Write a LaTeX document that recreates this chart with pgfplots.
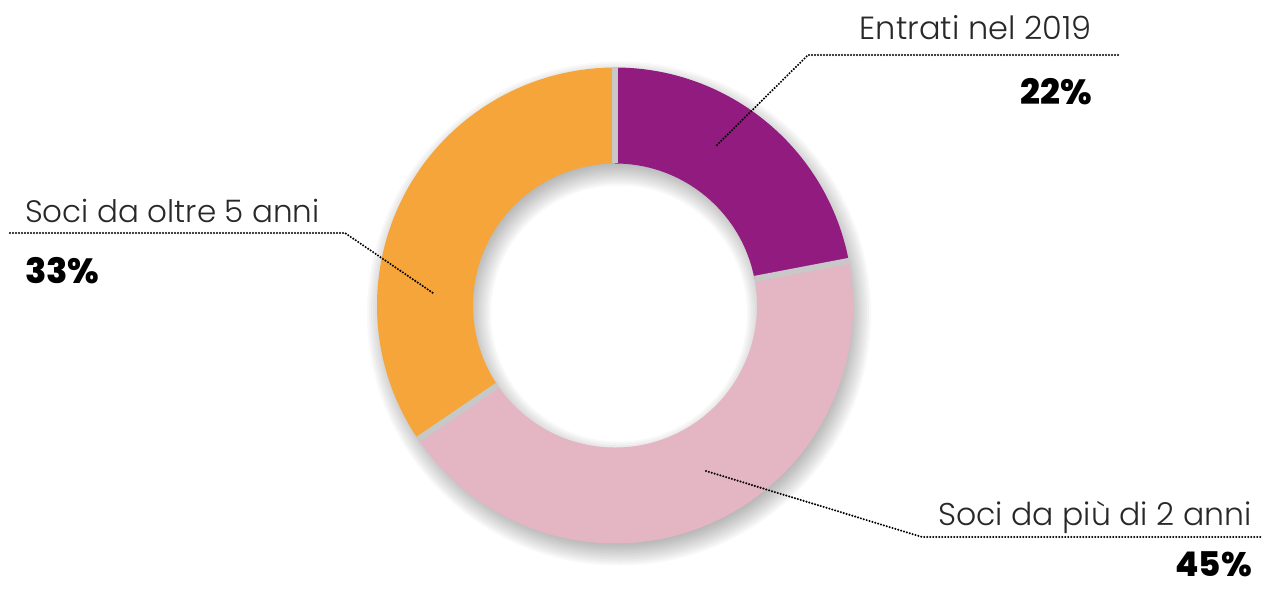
\documentclass[border=0pt]{standalone}
\usepackage{fontspec}
\usepackage{pgfplots}
\usepackage{pgfplotstable}
\pgfplotsset{compat=1.18}
\usetikzlibrary{calc}
\setmainfont{Poppins}
\IfFontExistsTF{Poppins Light}{\newfontfamily\lightfont{Poppins Light}}{\newfontfamily\lightfont{Poppins}}
\IfFontExistsTF{Poppins ExtraBold}{\newfontfamily\heavyfont{Poppins ExtraBold}}{\newfontfamily\heavyfont{Poppins Bold}}
\definecolor{cpurple}{RGB}{145,27,126}
\definecolor{cpink}{RGB}{228,181,194}
\definecolor{corange}{RGB}{246,165,58}
\definecolor{cgap}{RGB}{200,200,200}
\definecolor{ctext}{RGB}{40,40,40}
\pgfplotstableread{
part value
Entrati 22.0
Piu2 43.5
Oltre5 34.5
}\piedata
\begin{document}
\begin{tikzpicture}
\pgfplotstablegetelem{0}{value}\of\piedata \pgfmathsetmacro\va{\pgfplotsretval}
\pgfplotstablegetelem{1}{value}\of\piedata \pgfmathsetmacro\vb{\pgfplotsretval}
\pgfplotstablegetelem{2}{value}\of\piedata \pgfmathsetmacro\vc{\pgfplotsretval}
\pgfmathsetmacro\tot{\va+\vb+\vc}
\pgfmathsetmacro\angA{90}
\pgfmathsetmacro\angB{90-360*\va/\tot}
\pgfmathsetmacro\angC{\angB-360*\vb/\tot}
\pgfmathsetmacro\angD{\angC-360*\vc/\tot}
\begin{axis}[hide axis, scale only axis, width=1265pt, height=590pt,
  xmin=0, xmax=1265, ymin=0, ymax=590, clip=false]
\coordinate (bl) at (axis cs:0,0);
\coordinate (tr) at (axis cs:1265,590);
\coordinate (c) at (axis cs:615,284.5);
\coordinate (s) at (axis cs:619,276.5);
% soft shadow
\pgfplotsinvokeforeach{0,...,11}{
  \fill[black, fill opacity=0.026, even odd rule] (s) circle[radius={230pt+2pt*#1}] (s) circle[radius={150pt-2pt*#1}];
}
% slices
\fill[cpurple] ($(c)+(\angA:238pt)$) arc[start angle=\angA, end angle=\angB, radius=238pt] -- ($(c)+(\angB:142pt)$) arc[start angle=\angB, end angle=\angA, radius=142pt] -- cycle;
\fill[cpink] ($(c)+(\angB:238pt)$) arc[start angle=\angB, end angle=\angC, radius=238pt] -- ($(c)+(\angC:142pt)$) arc[start angle=\angC, end angle=\angB, radius=142pt] -- cycle;
\fill[corange] ($(c)+(\angC:238pt)$) arc[start angle=\angC, end angle=\angD, radius=238pt] -- ($(c)+(\angD:142pt)$) arc[start angle=\angD, end angle=\angC, radius=142pt] -- cycle;
% gaps
\draw[cgap, line width=6pt] ($(c)+(\angA:142pt)$) -- ($(c)+(\angA:238.5pt)$);
\draw[cgap, line width=6pt] ($(c)+(\angB:142pt)$) -- ($(c)+(\angB:238.5pt)$);
\draw[cgap, line width=6pt] ($(c)+(\angC:142pt)$) -- ($(c)+(\angC:238.5pt)$);
% leader lines
\draw[black, line width=2.3pt, dash pattern=on 0pt off 3pt, line cap=round] (axis cs:717,445) -- (axis cs:808,535) -- (axis cs:1120,535);
\draw[black, line width=2.3pt, dash pattern=on 0pt off 3pt, line cap=round] (axis cs:10,357) -- (axis cs:345,357) -- (axis cs:433,297);
\draw[black, line width=2.3pt, dash pattern=on 0pt off 3pt, line cap=round] (axis cs:706,119) -- (axis cs:922,53) -- (axis cs:1262,53);
% labels
\node[anchor=base east, inner sep=0pt, text=ctext, font=\lightfont\fontsize{32}{32}\selectfont] at (axis cs:1092,550) {Entrati nel 2019};
\node[anchor=base east, inner sep=0pt, text=black, font=\heavyfont\fontsize{35}{35}\selectfont] at (axis cs:1092,485) {22\%};
\node[anchor=base west, inner sep=0pt, text=ctext, font=\lightfont\fontsize{31}{31}\selectfont] at (axis cs:25,367) {Soci da oltre 5 anni};
\node[anchor=base west, inner sep=0pt, text=black, font=\heavyfont\fontsize{35}{35}\selectfont] at (axis cs:25,307) {33\%};
\node[anchor=base east, inner sep=0pt, text=ctext, font=\lightfont\fontsize{31.5}{31.5}\selectfont] at (axis cs:1252,65) {Soci da più di 2 anni};
\node[anchor=base east, inner sep=0pt, text=black, font=\heavyfont\fontsize{34}{34}\selectfont] at (axis cs:1252,14) {45\%};
\end{axis}
\pgfresetboundingbox
\path (bl) rectangle (tr);
\end{tikzpicture}
\end{document}
